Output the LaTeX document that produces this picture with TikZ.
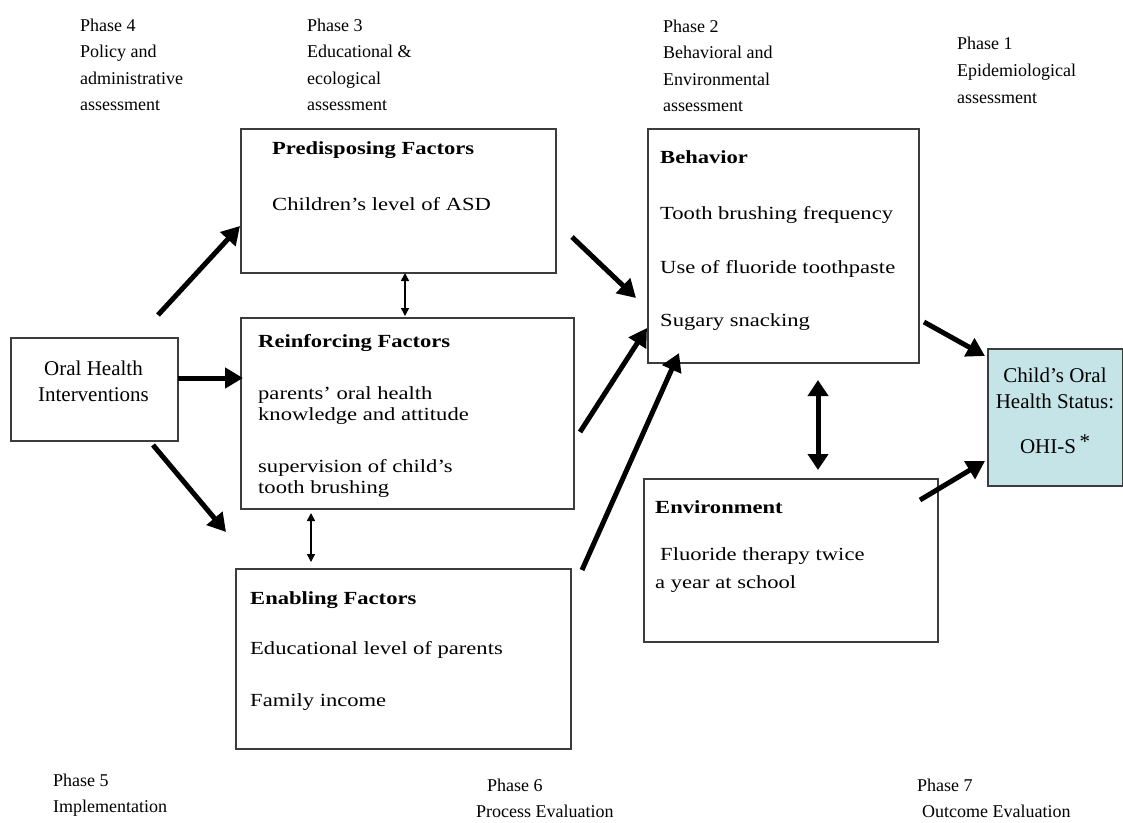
\documentclass[tikz,border=0pt]{standalone}
\usepackage{fontspec}
\setmainfont{Liberation Serif}
\newfontfamily\boxfont[FakeStretch=1.22]{Liberation Serif}
\usetikzlibrary{arrows.meta}
\definecolor{boxline}{RGB}{60,60,60}
\definecolor{childfill}{RGB}{196,228,231}
\tikzset{
  box/.style={draw=boxline, line width=1.5pt, anchor=north west, inner sep=0pt},
  txt/.style={anchor=base west, inner sep=0pt, font=\boxfont\fontsize{18.5}{21}\selectfont},
  hd/.style={txt, font=\boxfont\fontsize{18.5}{21}\selectfont\bfseries},
  ctr/.style={anchor=base, inner sep=0pt, font=\fontsize{21}{26}\selectfont},
  ph/.style={anchor=base west, inner sep=0pt, font=\fontsize{18}{26}\selectfont},
  bigarrow/.style={line width=5pt, -{Triangle[length=18pt,width=20pt]}},
  bigdouble/.style={line width=5pt, {Triangle[length=16pt,width=20pt]}-{Triangle[length=16pt,width=20pt]}},
  thindouble/.style={line width=1.5pt, {Triangle[length=8pt,width=8pt]}-{Triangle[length=8pt,width=8pt]}}
}
\begin{document}
\begin{tikzpicture}[x=1pt,y=-1pt]
\useasboundingbox (0,0) rectangle (1123,822);
% phases top
\node[ph] (p4a) at (80,31) {Phase 4};
\node[ph] (p4b) at (80,57.5) {Policy and};
\node[ph] (p4c) at (80,84) {administrative};
\node[ph] (p4d) at (80,110.5) {assessment};
\node[ph] (p3a) at (307,31) {Phase 3};
\node[ph] (p3b) at (307,57.5) {Educational \&};
\node[ph] (p3c) at (307,84) {ecological};
\node[ph] (p3d) at (307,110.5) {assessment};
\node[ph] (p2a) at (663,32) {Phase 2};
\node[ph] (p2b) at (663,58.5) {Behavioral and};
\node[ph] (p2c) at (663,85) {Environmental};
\node[ph] (p2d) at (663,111.5) {assessment};
\node[ph] (p1a) at (957,49) {Phase 1};
\node[ph] (p1b) at (957,76) {Epidemiological};
\node[ph] (p1c) at (957,103) {assessment};
% phases bottom
\node[ph] (p5a) at (53,786) {Phase 5};
\node[ph] (p5b) at (53,812) {Implementation};
\node[ph] (p6a) at (487,791) {Phase 6};
\node[ph] (p6b) at (476,817) {Process Evaluation};
\node[ph] (p7a) at (917,791) {Phase 7};
\node[ph] (p7b) at (922,817) {Outcome Evaluation};
% boxes
\node[box, minimum width=315pt, minimum height=144pt] (pre) at (240,128) {};
\node[box, minimum width=333pt, minimum height=191pt] (rei) at (240,317) {};
\node[box, minimum width=335pt, minimum height=180pt] (ena) at (235,568) {};
\node[box, minimum width=271pt, minimum height=234pt] (beh) at (647,128) {};
\node[box, minimum width=294pt, minimum height=163pt] (env) at (643,478) {};
\node[box, minimum width=167pt, minimum height=103pt] (ohi) at (10,337) {};
\node[box, fill=childfill, minimum width=135pt, minimum height=137pt] (chi) at (987,348) {};
% box texts
\node[hd] (preh) at (272,154) {Predisposing Factors};
\node[txt] (pre1) at (272,210) {Children’s level of ASD};
\node[hd] (reih) at (258,347) {Reinforcing Factors};
\node[txt] (rei1) at (258,399) {parents’ oral health};
\node[txt] (rei2) at (258,420) {knowledge and attitude};
\node[txt] (rei3) at (258,472) {supervision of child’s};
\node[txt] (rei4) at (258,493) {tooth brushing};
\node[hd] (enah) at (250,604) {Enabling Factors};
\node[txt] (ena1) at (250,654) {Educational level of parents};
\node[txt] (ena2) at (250,706) {Family income};
\node[hd] (behh) at (660,163) {Behavior};
\node[txt] (beh1) at (660,219) {Tooth brushing frequency};
\node[txt] (beh2) at (660,273) {Use of fluoride toothpaste};
\node[txt] (beh3) at (660,326) {Sugary snacking};
\node[hd] (envh) at (655,513) {Environment};
\node[txt] (env1) at (660,560) {Fluoride therapy twice};
\node[txt] (env2) at (655,588) {a year at school};
\node[ctr] (ohi1) at (93.5,375) {Oral Health};
\node[ctr] (ohi2) at (93.5,401) {Interventions};
\node[ctr] (chi1) at (1055,382) {Child’s Oral};
\node[ctr] (chi2) at (1055,408) {Health Status:};
\node[ctr] (chi3) at (1055,453) {OHI-S\,\raisebox{5pt}{*}};
% arrow end points
\coordinate (a1s) at (158,315); \coordinate (a1e) at (240,226);
\coordinate (a2s) at (178,378); \coordinate (a2e) at (243,378);
\coordinate (a3s) at (153,445); \coordinate (a3e) at (226,532);
\coordinate (a4s) at (572,237); \coordinate (a4e) at (636,298);
\coordinate (a5s) at (580,432); \coordinate (a5e) at (647,328);
\coordinate (a6s) at (582,570); \coordinate (a6e) at (679,353);
\coordinate (a7s) at (924,322); \coordinate (a7e) at (985,356);
\coordinate (a8s) at (920,500); \coordinate (a8e) at (985,461);
\coordinate (d1s) at (818,380); \coordinate (d1e) at (818,470);
\coordinate (d2s) at (405,273); \coordinate (d2e) at (405,316);
\coordinate (d3s) at (311,513); \coordinate (d3e) at (311,562);
\draw[bigarrow] (a1s) -- (a1e);
\draw[bigarrow] (a2s) -- (a2e);
\draw[bigarrow] (a3s) -- (a3e);
\draw[bigarrow] (a4s) -- (a4e);
\draw[bigarrow] (a5s) -- (a5e);
\draw[bigarrow] (a6s) -- (a6e);
\draw[bigarrow] (a7s) -- (a7e);
\draw[bigarrow] (a8s) -- (a8e);
\draw[bigdouble] (d1s) -- (d1e);
\draw[thindouble] (d2s) -- (d2e);
\draw[thindouble] (d3s) -- (d3e);
\end{tikzpicture}
\end{document}
